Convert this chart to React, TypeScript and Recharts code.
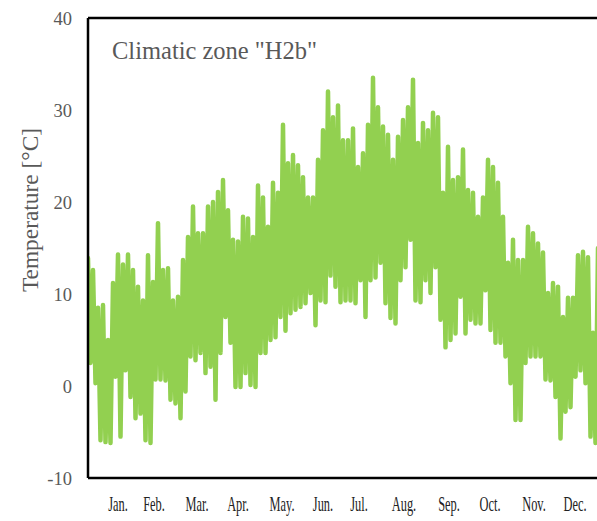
import React from 'react';
import { LineChart, Line, XAxis, YAxis, ReferenceLine } from 'recharts';

// Month labels and their positions along the sample axis
const months = ['Jan.', 'Feb.', 'Mar.', 'Apr.', 'May.', 'Jun.', 'Jul.', 'Aug.', 'Sep.', 'Oct.', 'Nov.', 'Dec.'];
const monthTickPos = [6, 13.2, 21.8, 30, 38.8, 47, 54.2, 63.2, 72.2, 80.4, 89.2, 97.4];

// Temperature envelope (°C), one pair per ~3.5 days
const highs = [
  13.9, 12.6, 8.5, 8.8, 5, 11.2, 14.3, 13.2, 14.3, 12.6, 10.8, 9.3, 14.2,
  11.3, 17.7, 12.6, 12.8, 9.3, 9.7, 13.7, 16.2, 19.5, 16.6, 16.6, 19.5, 20,
  21.1, 22.4, 19.1, 15.9, 15.7, 18.4, 18.2, 16.2, 21.8, 20.5, 17.3, 22.1, 21,
  28.4, 24.2, 25.1, 24, 22.7, 20.5, 20.5, 24.6, 27.8, 32, 29.2, 30.5, 26.7,
  26.7, 28, 23.8, 25.3, 28.4, 33.5, 30.3, 28.2, 27.3, 24.6, 27.1, 28.9, 30.3,
  33.3, 26.4, 28.6, 27.8, 29.7, 29.2, 21, 26, 22.4, 22.7, 25.7, 21.3, 21,
  18.4, 20.5, 24.6, 23.8, 22.1, 18.4, 13.4, 15.9, 13.7, 13.7, 17.3, 16.6, 15.5,
  14.5, 10.1, 11.2, 10.8, 7.5, 9.6, 9.6, 14.2, 14.6, 14, 5.8, 15,
];
const lows = [
  2.5, 0.3, -5.9, -6.1, -6.2, 1, -5.5, 1.7, -1.2, -3.5, -3.0, -5.9, -6.2,
  0.7, 0.7, 0.6, -1.5, -1.9, -3.5, -0.6, 3.2, 2.8, 3.6, 1.4, 2.1, -1.5,
  3.6, 7.5, 4.7, -0.1, -0.1, 1.4, 0.1, -0.1, 3.6, 3.6, 5, 5.3, 7.5,
  6, 7.9, 8.3, 8.6, 9, 10.1, 6.6, 9.3, 9.1, 12, 10.8, 9.1, 9.3,
  9.3, 9, 11.5, 7.5, 11.5, 11.8, 13.4, 9, 7.4, 6.8, 11.5, 12.9, 15.9,
  9.3, 9.1, 11.5, 10.1, 12.9, 7.2, 4.2, 5, 5.7, 9.7, 5.7, 7.2, 6.8,
  6.8, 10.4, 6.1, 4.7, 4.7, 3.2, 0.3, -3.7, -3.7, 2.5, 3.2, 3.2, 3.2,
  0.7, 0.6, -1.2, -5.7, -2.8, -2.3, 1, 1.7, 0.3, -5.5, -6.2, -1,
];

const yTicks = [-10, 0, 10, 20, 30, 40];

const data: { x: number; t: number }[] = [];
highs.forEach((h, i) => {
  data.push({ x: i, t: h });
  data.push({ x: i + 0.5, t: lows[i] });
});

const FONT = '"Liberation Serif", "Times New Roman", serif';

const YLabel = () => (
  <text
    x={30}
    y={210}
    transform="rotate(-90 30 210)"
    textAnchor="middle"
    dominantBaseline="central"
    fontFamily={FONT}
    fontSize={23.4}
    fill="#595959"
  >
    Temperature [°C]
  </text>
);

const MonthTick = (props: any) => {
  const { x, y, payload } = props;
  const idx = monthTickPos.indexOf(payload.value);
  return (
    <text
      transform={`translate(${x},${y + 33}) scale(0.62,1)`}
      textAnchor="middle"
      fontFamily={FONT}
      fontSize={20}
      fill="#222"
    >
      {months[idx]}
    </text>
  );
};

export default function App() {
  return (
    <div style={{ position: 'relative', width: 597, height: 521, overflow: 'hidden' }}>
      <style>{`html, body { margin: 0; padding: 0; overflow: hidden; }`}</style>
      <LineChart
        width={597}
        height={521}
        data={data}
        margin={{ top: 18, right: 0, bottom: 13, left: 0 }}
      >
        <XAxis
          type="number"
          dataKey="x"
          domain={[0, 101.8]}
          ticks={monthTickPos}
          interval={0}
          height={30}
          tickLine={false}
          tickSize={0}
          tickMargin={0}
          axisLine={{ stroke: '#000', strokeWidth: 2.5 }}
          tick={<MonthTick />}
          allowDataOverflow
        />
        <YAxis
          type="number"
          domain={[-10, 40]}
          ticks={yTicks}
          interval={0}
          width={88}
          tickLine={false}
          tickSize={0}
          tickMargin={16}
          axisLine={{ stroke: '#000', strokeWidth: 2.5 }}
          tick={{ fontFamily: FONT, fontSize: 18.5, fill: '#595959' }}
          label={{ content: YLabel }}
        />
        <ReferenceLine y={40} stroke="#000" strokeWidth={2.5} />
        <Line
          type="linear"
          dataKey="t"
          stroke="#92D050"
          strokeWidth={4.5}
          strokeLinejoin="round"
          strokeLinecap="round"
          dot={false}
          activeDot={false}
          isAnimationActive={false}
        />
      </LineChart>
      <div
        style={{
          position: 'absolute',
          left: 112,
          top: 38.5,
          fontFamily: FONT,
          fontSize: 24.5,
          lineHeight: 1,
          color: '#595959',
          whiteSpace: 'nowrap',
        }}
      >
        Climatic zone "H2b"
      </div>
    </div>
  );
}
